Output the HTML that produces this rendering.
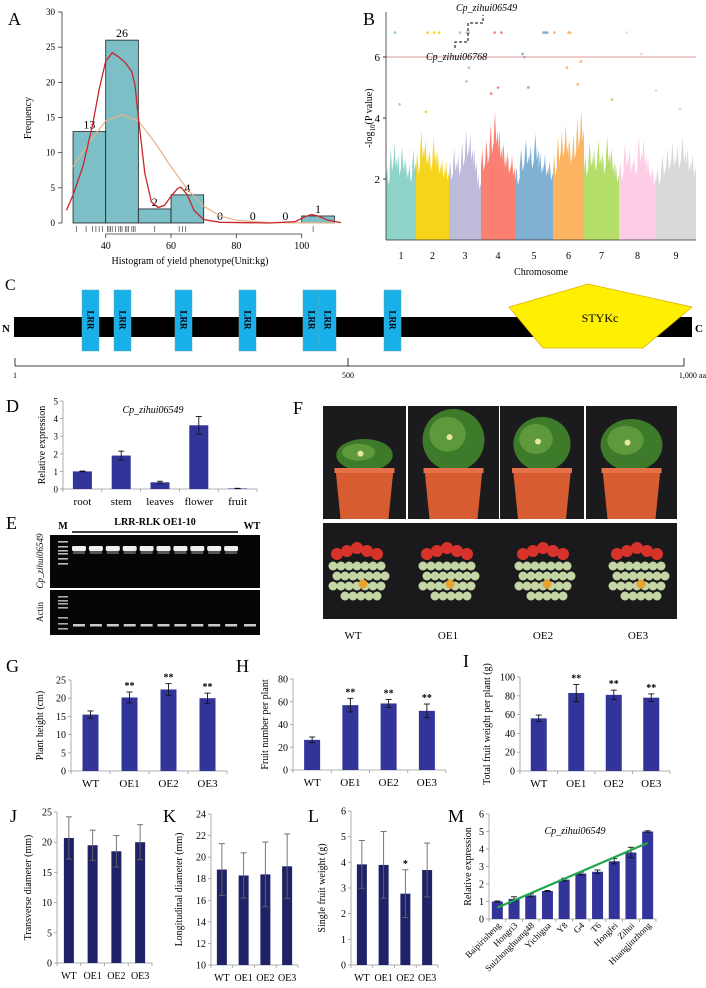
<!DOCTYPE html>
<html><head><meta charset="utf-8">
<style>
html,body{margin:0;padding:0;background:#fff;}
svg{display:block;font-family:"Liberation Serif",serif;}
</style></head>
<body>
<svg id="fig" width="706" height="988" viewBox="0 0 706 988" xmlns="http://www.w3.org/2000/svg"></svg>
<script>
// ---------- DATA ----------
// Panel A histogram
const histBins = [30,40,50,60,70,80,90,100];
const histCounts = [13,26,2,4,0,0,0,1];
const densityX = [28,30,33,36,38,40,42,44,46,48,49,50,52,54,56,58,60,62,63,65,67,70,75,90,98,101,103,105,108,112];
const densityY = [1.8,4,8,14,19,23,24.2,23.6,22.8,21.5,19.5,15,7,3,2.2,2.5,3.8,4.9,5.1,4,1.8,0.5,0.1,0,0.2,0.9,1.2,1.0,0.4,0.05];
const normalX = [30,35,40,45,50,55,60,65,70,75,80,90,110];
const normalY = [8,11.5,14.5,15.4,14.5,11.5,8,4.8,2.4,1,0.4,0.05,0];
const rugValues = [31,34,36,37,38,39,40.5,41,41.5,42,43,44,44.5,45,46,46.5,47,48,48.5,49,55,62.5,63.5,64.5,103.5];
// Panel B manhattan
const chromNames = ['1','2','3','4','5','6','7','8','9'];
const chromTops = [
 [2.4,3.0,3.2,2.8,3.1,2.7,2.5,3.0],
 [2.9,3.6,3.3,3.0,3.4,2.9,2.7,2.6],
 [2.6,3.0,2.8,3.2,3.6,3.5,3.0,2.2],
 [3.0,3.3,3.8,4.2,3.6,3.2,2.9,2.8],
 [2.4,3.0,3.3,3.1,3.5,2.9,2.8,2.6],
 [2.8,3.4,3.6,3.8,3.3,3.5,4.0,4.3],
 [2.8,3.2,3.0,3.3,2.9,3.4,3.0,2.5],
 [2.6,3.2,3.0,2.8,3.4,3.3,2.7,2.4],
 [2.4,2.8,3.0,3.2,3.1,3.4,3.0,2.8]
];
const hitChrom = [1,2,2,2,3,3,3,4,4,5,5,5,6,6,6,8, 5,5,3,3,6,6,4,5,8,9,1,2,4,6,7,9];
const hitFrac  = [0.3,0.35,0.55,0.7,0.35,0.55,0.62,0.4,0.6,0.75,0.8,0.85,0.05,0.5,0.55,0.2, 0.2,0.25,0.62,0.55,0.45,0.9,0.5,0.35,0.6,0.0,0.45,0.3,0.3,0.8,0.8,0.6];
const hitValue = [6.8,6.8,6.8,6.8,6.8,6.8,6.8,6.8,6.8,6.8,6.8,6.8,6.8,6.8,6.8,6.8, 6.1,6.0,5.65,5.2,5.65,5.85,5.0,5.0,6.1,4.9,4.45,4.2,4.8,5.1,4.6,4.3];
const threshold = 6.0;
// Panel D
const dCats = ['root','stem','leaves','flower','fruit'];
const dVals = [1,1.9,0.38,3.62,0.03];
const dErr = [0.02,0.25,0.06,0.5,0.01];
// G-L
const oeCats = ['WT','OE1','OE2','OE3'];
const gVals = [15.5,20.2,22.4,20.0]; const gErr = [1.0,1.5,1.6,1.4]; const gSig = ['','**','**','**'];
const hVals = [26.5,57,58.5,52]; const hErr = [2.5,6,3.5,6]; const hSig = ['','**','**','**'];
const iVals = [56,83,81,78]; const iErr = [3.5,9,5,4]; const iSig = ['','**','**','**'];
const jVals = [20.7,19.5,18.5,20.0]; const jErr = [3.5,2.5,2.6,2.9];
const kVals = [18.85,18.3,18.4,19.15]; const kErr = [2.4,2.1,3.0,3.0];
const lVals = [3.92,3.9,2.78,3.7]; const lErr = [0.93,1.3,0.93,1.05]; const lSig = ['','','*',''];
// M
const mCats = ['Baipirisheng','Hongri3','Suizhonghuang48','Yichigua','Y8','G4','T6','Hongfei','Zihui','Huangjinzhong'];
const mVals = [1.0,1.15,1.35,1.6,2.25,2.6,2.7,3.3,3.8,5.0];
const mErr = [0.03,0.12,0.08,0.03,0.08,0.08,0.1,0.15,0.3,0.04];
const mTrend = [0.65,4.35];

// ---------- HELPERS ----------
const svg = document.getElementById('fig');
const NS = 'http://www.w3.org/2000/svg';
function mk(tag, attrs, name, parent){
  const el = document.createElementNS(NS, tag);
  for (const k in attrs) el.setAttribute(k, attrs[k]);
  
  
  (parent||svg).appendChild(el);
  return el;
}
function txt(x,y,s,size,name,extra){
  const a = Object.assign({x:x,y:y,'font-size':size,fill:'#000'}, extra||{});
  const t = mk('text', a, name);
  t.textContent = s;
  return t;
}
function scale(d0,d1,r0,r1){return v => r0 + (v-d0)/(d1-d0)*(r1-r0);}

// ---------- PANEL A ----------
(function(){
  const xs = scale(40,100,105.7,301.7), ys = scale(0,30,223,12);
  txt(8,25,'A',18,'panel-a-label');
  for(let i=0;i<histBins.length;i++){
    const x0=xs(histBins[i]), x1=xs(histBins[i]+10);
    mk('rect',{x:x0,y:ys(histCounts[i]),width:x1-x0,height:ys(0)-ys(histCounts[i]),fill:'#7cbfc6',stroke:'#222','stroke-width':0.8},'hist-bar');
    txt((x0+x1)/2, ys(histCounts[i])-3, String(histCounts[i]), 12,'hist-count',{'text-anchor':'middle'});
  }
  let p=''; normalX.forEach((v,i)=>{p+=(i?'L':'M')+xs(v)+','+ys(normalY[i]);});
  mk('path',{d:p,fill:'none',stroke:'#e8b08a','stroke-width':1.2},'normal-curve');
  p=''; densityX.forEach((v,i)=>{p+=(i?'L':'M')+xs(v)+','+ys(densityY[i]);});
  mk('path',{d:p,fill:'none',stroke:'#c8262b','stroke-width':1.3},'density-curve');
  rugValues.forEach(v=>mk('line',{x1:xs(v),x2:xs(v),y1:226,y2:232,stroke:'#444','stroke-width':0.7},'rug-tick'));
  mk('line',{x1:62,x2:62,y1:12,y2:223,stroke:'#333','stroke-width':0.8},'a-y-axis');
  [0,5,10,15,20,25,30].forEach(v=>{
    mk('line',{x1:58,x2:62,y1:ys(v),y2:ys(v),stroke:'#333','stroke-width':0.8},'a-y-tick');
    txt(55,ys(v)+3,String(v),9,'a-y-tick-label',{'text-anchor':'end'});
  });
  mk('line',{x1:xs(40),x2:xs(100),y1:234,y2:234,stroke:'#333','stroke-width':0.8},'a-x-axis');
  [40,60,80,100].forEach(v=>{
    mk('line',{x1:xs(v),x2:xs(v),y1:234,y2:238,stroke:'#333','stroke-width':0.8},'a-x-tick');
    txt(xs(v),249,String(v),10,'a-x-tick-label',{'text-anchor':'middle'});
  });
  txt(190,264,'Histogram of yield phenotype(Unit:kg)',10,'a-x-title',{'text-anchor':'middle'});
  txt(0,0,'Frequency',10,'a-y-title',{'text-anchor':'middle',transform:'translate(31,118) rotate(-90)'});
})();

// ---------- PANEL B ----------
(function(){
  const colors=['#8dd3c7','#f7d51d','#bebada','#fb8072','#80b1d3','#fdb462','#b3de69','#fccde5','#d9d9d9'];
  const bounds=[386,416,449,481,515,553,584,619,656,696];
  const ys = scale(0,6,240,57);
  txt(363,25,'B',18,'panel-b-label');
  chromNames.forEach((c,i)=>{
    const x0=bounds[i], x1=bounds[i+1], t=chromTops[i], n=t.length;
    let d='M'+x0+','+ys(0);
    t.forEach((v,j)=>{
      const xa=x0+(x1-x0)*j/n, xb=x0+(x1-x0)*(j+1)/n;
      d+='L'+xa+','+ys(v*0.8)+'L'+(xa+(xb-xa)*0.3)+','+ys(v)+'L'+(xa+(xb-xa)*0.6)+','+ys(v*0.75)+'L'+xb+','+ys(v*0.85);
    });
    d+='L'+x1+','+ys(0)+'Z';
    mk('path',{d:d,fill:colors[i]},'chromosome-'+c+'-snps');
    txt((x0+x1)/2,259,c,10,'b-x-tick-label',{'text-anchor':'middle'});
  });
  hitChrom.forEach((c,i)=>{
    const x=bounds[c-1]+(bounds[c]-bounds[c-1])*hitFrac[i];
    mk('circle',{cx:x,cy:ys(hitValue[i]),r:1.3,fill:colors[c-1]},'snp-hit');
  });
  mk('line',{x1:386,x2:696,y1:ys(threshold),y2:ys(threshold),stroke:'#d89a9a','stroke-width':1},'significance-threshold');
  mk('line',{x1:386,x2:386,y1:12,y2:240,stroke:'#333','stroke-width':0.8},'b-y-axis');
  mk('line',{x1:386,x2:696,y1:240,y2:240,stroke:'#333','stroke-width':0.8},'b-x-axis');
  [2,4,6].forEach(v=>{
    mk('line',{x1:383,x2:386,y1:ys(v),y2:ys(v),stroke:'#333'},'b-y-tick');
    txt(380,ys(v)+4,String(v),11,'b-y-tick-label',{'text-anchor':'end'});
  });
  txt(541,275,'Chromosome',10,'b-x-title',{'text-anchor':'middle'});
  const yt=txt(0,0,'-log',10,'b-y-title',{'text-anchor':'middle',transform:'translate(372,118) rotate(-90)'});
  yt.innerHTML='-log<tspan font-size="7" dy="3">10</tspan><tspan dy="-3">(P value)</tspan>';
  mk('path',{d:'M455,48 V42 H468 V23 H483 V15',fill:'none',stroke:'#000','stroke-width':1,'stroke-dasharray':'3,2'},'annotation-leader');
  txt(456,11,'Cp_zihui06549',10,'annotation-cp-zihui06549',{'font-style':'italic'});
  txt(426,60,'Cp_zihui06768',10,'annotation-cp-zihui06768',{'font-style':'italic'});
})();

// ---------- PANEL C ----------
(function(){
  txt(5,290,'C',16,'panel-c-label');
  mk('rect',{x:14,y:317,width:678,height:20,fill:'#000'},'protein-backbone');
  txt(2,332,'N',11,'n-terminus',{'font-weight':'bold'});
  txt(695,332,'C',11,'c-terminus',{'font-weight':'bold'});
  [82,114,175,239,303,319,384].forEach(x=>{
    mk('rect',{x:x,y:290,width:17,height:61,fill:'#19b0ea',stroke:'#6aa','stroke-width':0.5},'lrr-domain');
    txt(0,0,'LRR',9,'lrr-label',{'font-weight':'bold','text-anchor':'middle',transform:'translate('+(x+5.5)+',320) rotate(90)'});
  });
  mk('polygon',{points:'509,307 588,284 692,307 643,348 543,348',fill:'#ffef00',stroke:'#e0b000','stroke-width':0.8},'stykc-domain');
  txt(600,322,'STYKc',12,'stykc-label',{'text-anchor':'middle'});
  mk('line',{x1:15,x2:684,y1:366,y2:366,stroke:'#000','stroke-width':0.8},'scale-line');
  [15,348,684].forEach(x=>mk('line',{x1:x,x2:x,y1:358,y2:366,stroke:'#000','stroke-width':0.8},'scale-tick'));
  txt(13,378,'1',8,'scale-label-1');
  txt(348,378,'500',8,'scale-label-500',{'text-anchor':'middle'});
  txt(706,378,'1,000 aa',8,'scale-label-1000',{'text-anchor':'end'});
})();

// ---------- BAR CHART HELPER ----------
function barChart(o){
  const ys=scale(o.ymin,o.ymax,o.y0,o.yTop);
  const n=o.cats.length, slot=(o.x1-o.x0)/n;
  mk('line',{x1:o.x0,x2:o.x0,y1:o.yTop,y2:o.y0,stroke:'#999','stroke-width':0.8},o.id+'-y-axis');
  mk('line',{x1:o.x0,x2:o.x1,y1:o.y0,y2:o.y0,stroke:'#999','stroke-width':0.8},o.id+'-x-axis');
  for(let v=o.ymin; v<=o.ymax+1e-9; v+=o.step){
    mk('line',{x1:o.x0-3,x2:o.x0,y1:ys(v),y2:ys(v),stroke:'#999','stroke-width':0.8},o.id+'-y-tick');
    txt(o.x0-5,ys(v)+3.5,String(Math.round(v*10)/10),o.tickSize||10,o.id+'-y-tick-label',{'text-anchor':'end'});
  }
  for(let i=0;i<=n;i++) mk('line',{x1:o.x0+slot*i,x2:o.x0+slot*i,y1:o.y0,y2:o.y0+3,stroke:'#999','stroke-width':0.8},o.id+'-x-tick');
  o.cats.forEach((c,i)=>{
    const cx=o.x0+slot*(i+0.5), v=o.vals[i];
    mk('rect',{x:cx-o.bw/2,y:ys(v),width:o.bw,height:o.y0-ys(v),fill:o.color},o.id+'-bar-'+c.toLowerCase());
    if(o.err){
      const e=o.err[i], top=ys(v+e), bot=ys(v-e);
      mk('line',{x1:cx,x2:cx,y1:top,y2:bot,stroke:o.errColor||'#111','stroke-width':0.9},o.id+'-error-bar');
      mk('line',{x1:cx-3,x2:cx+3,y1:top,y2:top,stroke:o.errColor||'#111','stroke-width':0.9},o.id+'-error-cap');
      mk('line',{x1:cx-3,x2:cx+3,y1:bot,y2:bot,stroke:o.errColor||'#111','stroke-width':0.9},o.id+'-error-cap');
      if(o.sig && o.sig[i]) txt(cx,top-3,o.sig[i],10,o.id+'-significance',{'text-anchor':'middle','font-weight':'bold'});
    }
    if(o.rotate){
      txt(0,0,c,o.catSize||10,o.id+'-x-tick-label',{'text-anchor':'end',transform:'translate('+(cx+4)+','+(o.y0+7)+') rotate(-45)'});
    } else {
      txt(cx,o.y0+o.catDy,c,o.catSize||11,o.id+'-x-tick-label',{'text-anchor':'middle'});
    }
  });
  txt(0,0,o.ytitle,o.ytSize||10,o.id+'-y-title',{'text-anchor':'middle',transform:'translate('+o.ytx+','+((o.y0+o.yTop)/2)+') rotate(-90)'});
  if(o.letter) txt(o.letter[0],o.letter[1],o.letter[2],18,'panel-'+o.letter[2].toLowerCase()+'-label');
  return {ys:ys,slot:slot};
}

const BLUE='#33349a', NAVY='#1f2266';
barChart({id:'d',x0:63,x1:257,y0:489,yTop:401,ymin:0,ymax:5,step:1,cats:dCats,vals:dVals,err:dErr,bw:19,color:BLUE,catDy:16,ytitle:'Relative expression',ytx:45,tickSize:9,letter:[6,412,'D']});
txt(153,413,'Cp_zihui06549',10,'d-title',{'text-anchor':'middle','font-style':'italic'});

barChart({id:'g',x0:71,x1:227,y0:771,yTop:680,ymin:0,ymax:25,step:5,cats:oeCats,vals:gVals,err:gErr,sig:gSig,bw:16,color:BLUE,catDy:16,ytitle:'Plant height (cm)',ytx:43,letter:[6,672,'G']});
barChart({id:'h',x0:293,x1:446,y0:770,yTop:679,ymin:0,ymax:80,step:20,cats:oeCats,vals:hVals,err:hErr,sig:hSig,bw:16,color:BLUE,catDy:16,ytitle:'Fruit number per plant',ytx:268,letter:[236,672,'H']});
barChart({id:'i',x0:520,x1:670,y0:771,yTop:677,ymin:0,ymax:100,step:20,cats:oeCats,vals:iVals,err:iErr,sig:iSig,bw:16,color:BLUE,catDy:16,ytitle:'Total fruit weight per plant (g)',ytx:490,letter:[463,667,'I']});

barChart({id:'j',x0:57,x1:152,y0:963,yTop:812,ymin:0,ymax:25,step:5,cats:oeCats,vals:jVals,err:jErr,errColor:'#666',bw:10,color:NAVY,catDy:16,catSize:10,ytitle:'Transverse diameter (mm)',ytx:31,letter:[10,822,'J']});
barChart({id:'k',x0:211,x1:298,y0:965,yTop:814,ymin:10,ymax:24,step:2,cats:oeCats,vals:kVals,err:kErr,errColor:'#666',bw:10,color:NAVY,catDy:16,catSize:10,ytitle:'Longitudinal diameter (mm)',ytx:182,letter:[163,822,'K']});
barChart({id:'l',x0:351,x1:438,y0:965,yTop:811,ymin:0,ymax:6,step:1,cats:oeCats,vals:lVals,err:lErr,errColor:'#666',sig:lSig,bw:10,color:NAVY,catDy:16,catSize:10,ytitle:'Single fruit weight (g)',ytx:325,letter:[308,822,'L']});

(function(){
  const r=barChart({id:'m',x0:489,x1:656,y0:919,yTop:814,ymin:0,ymax:6,step:1,cats:mCats,vals:mVals,err:mErr,bw:11,color:BLUE,rotate:true,catSize:9,ytitle:'Relative expression',ytx:471,letter:[448,822,'M']});
  const xA=489+r.slot*0.5, xB=489+r.slot*(mCats.length-0.5);
  mk('line',{x1:xA,x2:xB,y1:r.ys(mTrend[0]),y2:r.ys(mTrend[1]),stroke:'#1fa74a','stroke-width':2.2},'m-trend-line');
  txt(575,834,'Cp_zihui06549',10,'m-title',{'text-anchor':'middle','font-style':'italic'});
})();

// ---------- PANEL E (gels) ----------
(function(){
  txt(6,529,'E',18,'panel-e-label');
  txt(63,529,'M',10,'e-marker-label',{'text-anchor':'middle','font-weight':'bold'});
  txt(155,525,'LRR-RLK OE1-10',10,'e-group-label',{'text-anchor':'middle','font-weight':'bold'});
  mk('line',{x1:72,x2:238,y1:532,y2:532,stroke:'#000','stroke-width':1.5},'e-group-line');
  txt(252,529,'WT',10,'e-wt-label',{'text-anchor':'middle','font-weight':'bold'});
  mk('rect',{x:50,y:535,width:210,height:53,fill:'#050505'},'gel-target');
  mk('rect',{x:50,y:590,width:210,height:45,fill:'#050505'},'gel-actin');
  [541,546,550,553,558,563].forEach(y=>mk('rect',{x:58,y:y,width:10,height:1.6,fill:'#bbb'},'ladder-band'));
  [596,600,603,607,617,623,628].forEach(y=>mk('rect',{x:58,y:y,width:10,height:1.6,fill:'#aaa'},'ladder-band'));
  for(let i=0;i<10;i++){
    const x=79+i*16.9;
    mk('rect',{x:x-7,y:546,width:14,height:5,rx:1.5,fill:'#eee'},'target-band');
    mk('rect',{x:x-6,y:551,width:12,height:3,fill:'#555'},'target-band-smear');
  }
  for(let i=0;i<11;i++){
    const x=i<10?79+i*16.9:250;
    mk('rect',{x:x-6,y:624,width:12,height:2.5,fill:'#ccc'},'actin-band');
  }
  txt(0,0,'Cp_zihui06549',9,'e-target-label',{'text-anchor':'middle','font-style':'italic',transform:'translate(43,561) rotate(-90)'});
  txt(0,0,'Actin',9,'e-actin-label',{'text-anchor':'middle',transform:'translate(43,612) rotate(-90)'});
})();

// ---------- PANEL F (photos) ----------
(function(){
  txt(293,414,'F',18,'panel-f-label');
  const panels=[[323,406,'wt'],[408,499,'oe1'],[500,584,'oe2'],[586,677,'oe3']];
  const plantH=[28,58,50,48];
  panels.forEach((p,i)=>{
    mk('rect',{x:p[0],y:406,width:p[1]-p[0],height:113,fill:'#1b1b1e'},'plant-photo-'+p[2]);
    const cx=(p[0]+p[1])/2, w=(p[1]-p[0]);
    const ptop=469;
    mk('ellipse',{cx:cx,cy:ptop-plantH[i]/2,rx:w*0.34,ry:plantH[i]/2+2,fill:'#3d7a2a'},'plant-foliage');
    mk('ellipse',{cx:cx-6,cy:ptop-plantH[i]*0.6,rx:w*0.2,ry:plantH[i]*0.3,fill:'#5e9a3c'},'plant-foliage-light');
    mk('circle',{cx:cx-4,cy:ptop-plantH[i]*0.55,r:3,fill:'#e6e6a0'},'plant-fruit');
    mk('polygon',{points:(cx-29)+','+ptop+' '+(cx+29)+','+ptop+' '+(cx+24)+',519 '+(cx-24)+',519',fill:'#d85c32'},'plant-pot');
    mk('rect',{x:cx-30,y:ptop-1,width:60,height:5,fill:'#e5714a'},'plant-pot-rim');
  });
  mk('rect',{x:323,y:523,width:354,height:96,fill:'#1a1a1c'},'fruit-photo');
  const cl=[[357,'wt',6],[447,'oe1',3],[543,'oe2',4],[637,'oe3',4]];
  cl.forEach(c=>{
    const cx=c[0];
    // green fruits
    for(let r=0;r<4;r++)for(let k=-3;k<=3;k++){
      if(Math.abs(k)+r>5) continue;
      mk('circle',{cx:cx+k*8+(r%2)*4,cy:566+r*10,r:4.5,fill:'#c4d6a4'},'green-fruit');
    }
    for(let k=-2;k<=2;k++){
      mk('circle',{cx:cx+k*10,cy:548+Math.abs(k)*3,r:6,fill:'#d8332a'},'red-fruit');
    }
    mk('circle',{cx:cx+c[2],cy:584,r:4.5,fill:'#e8a230'},'orange-fruit');
  });
  [['WT',353],['OE1',448],['OE2',543],['OE3',638]].forEach(l=>txt(l[1],639,l[0],11,'f-label-'+l[0].toLowerCase(),{'text-anchor':'middle'}));
})();
</script>
</body></html>
